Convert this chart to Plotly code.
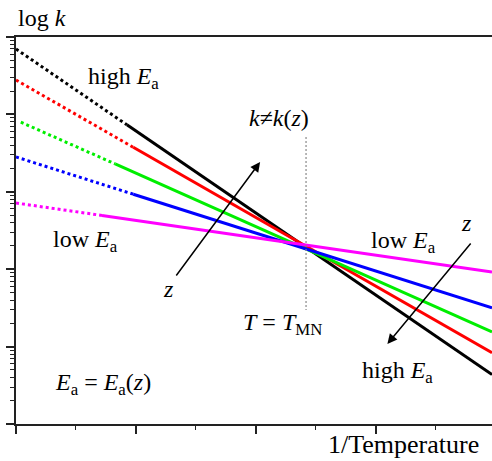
import plotly.graph_objects as go

# Data (x = 1/Temperature in arbitrary units, log10 k values)
series_names = ["black", "red", "green", "blue", "magenta"]
series_colors = ["#000000", "#ff0000", "#00ee00", "#0000ff", "#ff00ff"]
x_start = [0.0, 0.0, 0.04, 0.0, 0.0]
x_break = [0.925, 0.978, 0.827, 0.978, 0.717]
x_end = [3.97, 3.97, 3.97, 3.97, 3.97]
logk_start = [4.845, 4.444, 3.90, 3.450, 2.855]
logk_break = [3.865, 3.575, 3.36, 2.969, 2.694]
logk_end = [0.64, 0.92, 1.19, 1.50, 1.964]

x_mn = 2.419
logk_mn_line = [3.708, 1.473]

fig = go.Figure()

for i in range(len(series_names)):
    fig.add_trace(go.Scatter(
        x=[x_start[i], x_break[i]],
        y=[10 ** logk_start[i], 10 ** logk_break[i]],
        mode="lines",
        line=dict(color=series_colors[i], width=3, dash="3px,3px"),
        hoverinfo="skip", showlegend=False))
    fig.add_trace(go.Scatter(
        x=[x_break[i], x_end[i]],
        y=[10 ** logk_break[i], 10 ** logk_end[i]],
        mode="lines",
        line=dict(color=series_colors[i], width=3),
        hoverinfo="skip", showlegend=False))

fig.add_trace(go.Scatter(
    x=[x_mn, x_mn], y=[10 ** v for v in logk_mn_line],
    mode="lines", line=dict(color="#888888", width=1.2, dash="2px,2px"),
    hoverinfo="skip", showlegend=False))


def txt(x, y, text, size=24):
    # paper-referenced labels with automatic anchoring
    return dict(x=x, y=y, text=text, showarrow=False, xref="paper", yref="paper",
                font=dict(family="Liberation Serif", size=size, color="black"))


annotations = [
    txt(0.0, 1.087, "log <i>k</i>"),
    txt(0.977, -0.095, "1/Temperature", 26),
    txt(0.1466, 0.938, "high <i>E</i><sub>a</sub>"),
    txt(0.5525, 0.8295, "<i>k</i>≠<i>k</i>(<i>z</i>)"),
    txt(0.0729, 0.4716, "low <i>E</i><sub>a</sub>"),
    txt(0.3036, 0.3483, "<i>z</i>"),
    txt(0.8866, 0.469, "low <i>E</i><sub>a</sub>"),
    txt(0.962, 0.519, "<i>z</i>"),
    txt(0.559, 0.215, "<i>T</i> = <i>T</i><sub>MN</sub>"),
    txt(0.880, 0.0904, "high <i>E</i><sub>a</sub>"),
    txt(0.0777, 0.0602, "<i>E</i><sub>a</sub> = <i>E</i><sub>a</sub>(<i>z</i>)"),
    # arrows
    dict(x=2.036, y=3.385, ax=1.3275, ay=1.899, xref="x", yref="y",
         axref="x", ayref="y", showarrow=True, arrowhead=2, arrowsize=1.3,
         arrowwidth=1.5, arrowcolor="black", text=""),
    dict(x=3.0975, y=1.034, ax=3.8025, ay=2.351, xref="x", yref="y",
         axref="x", ayref="y", showarrow=True, arrowhead=2, arrowsize=1.3,
         arrowwidth=1.5, arrowcolor="black", text=""),
]

axis_col = "#222222"
fig.update_layout(
    width=492, height=461,
    margin=dict(l=16, r=0, t=37, b=37, pad=0),
    plot_bgcolor="white", paper_bgcolor="white",
    annotations=annotations,
    xaxis=dict(range=[0, 3.97], showline=True, linecolor=axis_col, linewidth=2,
               mirror=True, ticks="outside", ticklen=8, tickwidth=1.5,
               tickcolor=axis_col, tick0=0, dtick=1, showticklabels=False,
               showgrid=False, zeroline=False,
               minor=dict(ticks="outside", ticklen=4, tickwidth=1.2,
                          tickcolor=axis_col, dtick=0.5, showgrid=False)),
    yaxis=dict(type="log", range=[0, 5], showline=True, linecolor=axis_col,
               linewidth=2, ticks="outside", ticklen=8, tickwidth=1.5,
               tickcolor=axis_col, dtick=1, showticklabels=False,
               showgrid=False, zeroline=False,
               minor=dict(ticks="outside", ticklen=4, tickwidth=1.2,
                          tickcolor=axis_col, dtick="D1", showgrid=False)),
)

fig.write_html("out.html")
